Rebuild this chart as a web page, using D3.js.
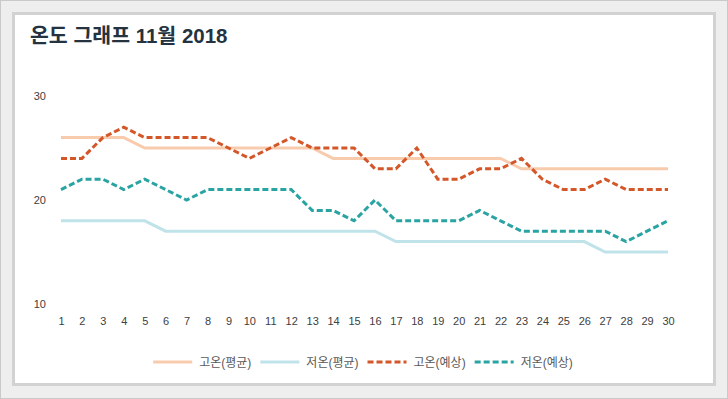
<!DOCTYPE html>
<html><head><meta charset="utf-8">
<script src="https://cdn.jsdelivr.net/npm/d3@7/dist/d3.min.js"></script>
<style>
html,body{margin:0;padding:0;background:#eeeeee;}
svg{display:block;}
</style></head>
<body>
<svg id="c" width="728" height="399"></svg>
<script>
const days = d3.range(1, 31);
const highAvg = [26,26,26,26,25,25,25,25,25,25,25,25,25,24,24,24,24,24,24,24,24,24,23,23,23,23,23,23,23,23];
const lowAvg  = [18,18,18,18,18,17,17,17,17,17,17,17,17,17,17,17,16,16,16,16,16,16,16,16,16,16,15,15,15,15];
const highFc  = [24,24,26,27,26,26,26,26,25,24,25,26,25,25,25,23,23,25,22,22,23,23,24,22,21,21,22,21,21,21];
const lowFc   = [21,22,22,21,22,21,20,21,21,21,21,21,19,19,18,20,18,18,18,18,19,18,17,17,17,17,17,16,17,18];
const yTicks = [10, 20, 30];
const seriesNames = ["고온(평균)", "저온(평균)", "고온(예상)", "저온(예상)"];
const title = "온도 그래프 11월 2018";

const series = [
  {name: seriesNames[0], values: highAvg, color: "#f8cbad", dash: null},
  {name: seriesNames[1], values: lowAvg,  color: "#c0e3ea", dash: null},
  {name: seriesNames[2], values: highFc,  color: "#d4572a", dash: "6,3"},
  {name: seriesNames[3], values: lowFc,   color: "#2aa3a3", dash: "6,3"}
];

const svg = d3.select("#c");
const font = "'Liberation Sans', Arial, 'Noto Sans CJK KR', sans-serif";

// frame
svg.append("rect").attr("x",0.5).attr("y",0.5).attr("width",727).attr("height",398)
  .attr("fill","#eeeeee").attr("stroke","#c9c9c9").attr("stroke-width",1);
svg.append("rect").attr("x",13.5).attr("y",13.5).attr("width",701).attr("height",371)
  .attr("fill","#ffffff").attr("stroke","#d2d2d2").attr("stroke-width",3);

svg.append("text").attr("x",30).attr("y",43)
  .attr("font-family", font).attr("font-size",20.5).attr("font-weight","bold")
  .attr("fill","#253340").text(title);

const x = d3.scaleLinear().domain([1,30]).range([61,668]);
const y = d3.scaleLinear().domain([10,30]).range([304,96]);

const yAxis = svg.append("g").attr("transform","translate(46,0)")
  .call(d3.axisLeft(y).tickValues(yTicks).tickSize(0).tickPadding(0));
yAxis.select(".domain").remove();
yAxis.selectAll("text").attr("font-family", font).attr("font-size",11).attr("fill","#404040");

const xAxis = svg.append("g").attr("transform","translate(0,314)")
  .call(d3.axisBottom(x).tickValues(days).tickFormat(d3.format("d")).tickSize(0).tickPadding(3));
xAxis.select(".domain").remove();
xAxis.selectAll("text").attr("font-family", font).attr("font-size",11).attr("fill","#404040");

const line = d3.line().x((d,i)=>x(days[i])).y(d=>y(d));
svg.append("g").selectAll("path").data(series).join("path")
  .attr("d", d=>line(d.values))
  .attr("fill","none")
  .attr("stroke", d=>d.color)
  .attr("stroke-width",3)
  .attr("stroke-dasharray", d=>d.dash);

// legend
const lg = svg.append("g");
const items = lg.selectAll("g").data(series).join("g");
items.append("line").attr("x1",0).attr("x2",39).attr("y1",0).attr("y2",0)
  .attr("stroke", d=>d.color).attr("stroke-width",3).attr("stroke-dasharray", d=>d.dash);
items.append("text").attr("x",46).attr("y",4.5)
  .attr("font-family", font).attr("font-size",12).attr("fill","#595959")
  .text(d=>d.name);
let cx = 0;
items.each(function(){
  const g = d3.select(this);
  g.attr("transform", `translate(${cx},0)`);
  const w = 46 + g.select("text").node().getComputedTextLength();
  cx += w + 9;
});
const total = cx - 9;
lg.attr("transform", `translate(${363 - total/2},362)`);
</script>
</body></html>
